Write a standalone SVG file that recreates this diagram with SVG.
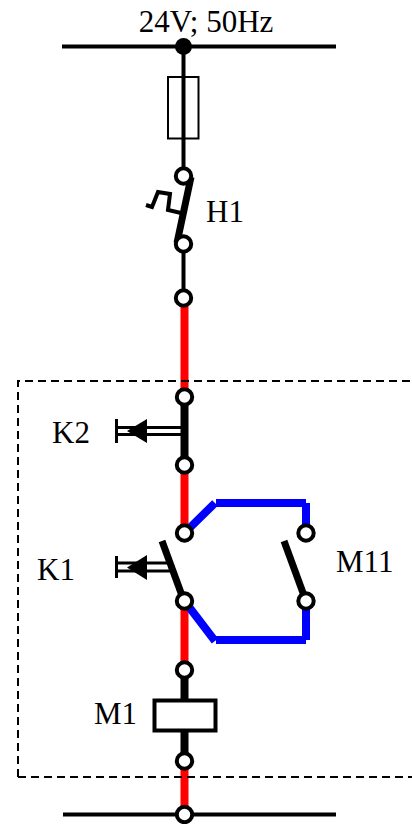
<svg xmlns="http://www.w3.org/2000/svg" width="412" height="824" viewBox="0 0 412 824">
<style>
text{font-family:"Liberation Serif","Times New Roman",serif;font-size:31px;fill:#000}
.c{fill:#fff;stroke:#000;stroke-width:4}
.w{fill:none;stroke:#000;stroke-width:4}
.t{fill:none;stroke:#000;stroke-width:8}
.r{fill:none;stroke:#f00;stroke-width:8}
.b{fill:none;stroke:#00f;stroke-width:8}
.l{fill:none;stroke:#000;stroke-width:3}
</style>
<rect width="412" height="824" fill="#fff"/>
<g id="connectors">
<path class="w" d="M62 46.500H336M63 814.500H336"/>
<path class="w" d="M183.500 46V176M183.500 244V298"/>
<path class="r" d="M184.500 298V397M184.500 465V533M184.500 601V670M184.500 761V814"/>
<path class="b" d="M184.500 533L215 503M216 503H306M306 503V533M184.500 601L215 641M216 640H306M306 640V601"/>
<path class="t" d="M184.500 397V465M184.500 670V700M184.500 730V761"/>
<path d="M18 777V381H412M18 777H412" fill="none" stroke="#000" stroke-width="2" stroke-dasharray="8 5"/>
</g>
<g id="supply"><circle cx="183.500" cy="46.500" r="8.500" fill="#000"/><text x="206" y="32" text-anchor="middle">24V; 50Hz</text></g>
<g id="fuse"><rect x="168" y="77" width="30.500" height="61.500" fill="none" stroke="#000" stroke-width="2"/></g>
<g id="H1">
<path d="M191 177L177 243" fill="none" stroke="#000" stroke-width="7"/>
<path d="M146 205L152 207L158 192L170 194L168 210L181 213" fill="none" stroke="#000" stroke-width="4"/>
<circle class="c" cx="183.500" cy="176" r="7.700"/><circle class="c" cx="183.500" cy="244" r="7.700"/>
<text x="206" y="222">H1</text>
</g>
<g id="terminal"><circle class="c" cx="183.500" cy="298" r="7.700"/></g>
<g id="K2">
<path class="l" d="M116.500 419V443M116.500 427.500H181M116.500 434.500H181"/>
<path d="M147 419V443L127 431Z" fill="#000"/>
<circle class="c" cx="184.500" cy="397" r="7.700"/><circle class="c" cx="184.500" cy="465" r="7.700"/>
<text x="52" y="443">K2</text>
</g>
<g id="K1">
<path class="l" d="M116.500 556V578M116.500 563H170M116.500 571H170"/>
<path d="M147 555V580L127 567.500Z" fill="#000"/>
<path d="M162 541L184 601" fill="none" stroke="#000" stroke-width="7"/>
<circle class="c" cx="184.500" cy="533" r="7.700"/><circle class="c" cx="184.500" cy="601" r="7.700"/>
<text x="37" y="580">K1</text>
</g>
<g id="M11">
<path d="M284 541L306 601" fill="none" stroke="#000" stroke-width="7"/>
<circle class="c" cx="306" cy="533" r="7.700"/><circle class="c" cx="306" cy="601" r="7.700"/>
<text x="336" y="572">M11</text>
</g>
<g id="M1">
<rect x="154.500" y="700.500" width="61" height="30" fill="#fff" stroke="#000" stroke-width="4"/>
<circle class="c" cx="184.500" cy="670" r="7.700"/><circle class="c" cx="184.500" cy="761" r="7.700"/>
<text x="94" y="724">M1</text>
</g>
<g id="neutral"><circle class="c" cx="184.500" cy="814.500" r="7.700"/></g>
</svg>
